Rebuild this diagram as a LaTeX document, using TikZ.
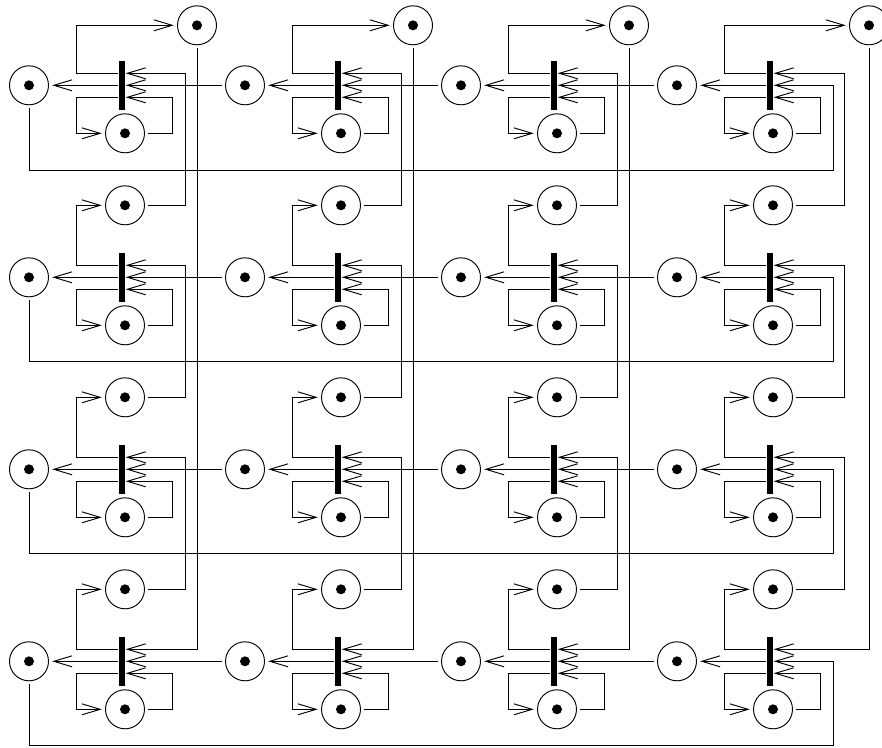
\documentclass[tikz,border=0pt]{standalone}
\usepackage{tikz}
\usetikzlibrary{arrows.meta}

\tikzset{
  place/.style={draw, circle, minimum size=1.17cm, inner sep=0pt, outer sep=.11cm},
  trans/.style={fill=black, minimum width=.18cm, minimum height=1.47cm, inner sep=0pt, outer sep=.6pt},
  link/.style={-{Straight Barb[length=.55cm, width=.33cm]}}
}

\begin{document}
\begin{tikzpicture}[x=.03cm, y=-.03cm, line width=.8pt]
    \useasboundingbox (0,0) rectangle (882,748);

    % Top places of the first row
    \foreach \i/\px in {0/197, 1/413, 2/629, 3/869}
        \node[place] (top-\i-0) at (\px,25.3) {};

    % Places and transitions
    \foreach \i/\x in {0/0, 1/216, 2/432, 3/648} {
        \foreach \j/\y in {0/0, 1/192, 2/384, 3/576} {
            \node[place] (left-\i-\j) at (29+\x,85.3+\y) {};
            \node[place] (bot-\i-\j) at (125+\x,133.3+\y) {};
            \node[trans] (bar-\i-\j) at (122+\x,85.3+\y) {};
            \ifnum\j>0
                \node[place] (top-\i-\j) at (125+\x,13.3+\y) {};
            \fi
        }
    }

    % Tokens
    \foreach \i in {0,1,2,3} {
        \foreach \j in {0,1,2,3} {
            \fill (left-\i-\j) circle (.15cm);
            \fill (bot-\i-\j) circle (.15cm);
            \fill (top-\i-\j) circle (.15cm);
        }
    }

    % Arcs of one cell
    \foreach \i in {0,1,2,3} {
        \foreach \j in {0,1,2,3} {
            \draw[link] (bar-\i-\j.west) -- (left-\i-\j.east);
            \draw[link] ([yshift=.36cm]bar-\i-\j.west) -- ++(-42,0) |- (top-\i-\j.west);
            \draw[link] ([yshift=-.36cm]bar-\i-\j.west) -- ++(-42,0) |- (bot-\i-\j.west);
            \draw[link] (bot-\i-\j.east) -- ++(24,0) |- ([yshift=-.36cm]bar-\i-\j.east);
        }
    }

    % Horizontal arcs from the next column
    \foreach \i/\n in {0/1, 1/2, 2/3} {
        \foreach \j in {0,1,2,3}
            \draw[link] (left-\n-\j.west) -- (bar-\i-\j.east);
    }

    % Wrap around from first column to last column
    \foreach \j/\y in {0/170, 1/361.5, 2/553.5, 3/745} {
        \coordinate (wrap-\j) at (833,\y);
        \draw[link] (left-0-\j.south) |- (wrap-\j) |- (bar-3-\j.east);
    }

    % Arcs from the top places to the row above
    \foreach \i/\rx in {0/185, 1/401, 2/617, 3/844} {
        \foreach \j/\p in {1/0, 2/1, 3/2} {
            \coordinate (turn-\i-\j) at ([yshift=.36cm]bar-\i-\p.east);
            \draw[link] (top-\i-\j.east) -| (\rx,0 |- turn-\i-\j) -- (turn-\i-\j);
        }
        % Long line down to the last row
        \draw[link] (top-\i-0.south) |- ([yshift=.36cm]bar-\i-3.east);
    }
\end{tikzpicture}
\end{document}
